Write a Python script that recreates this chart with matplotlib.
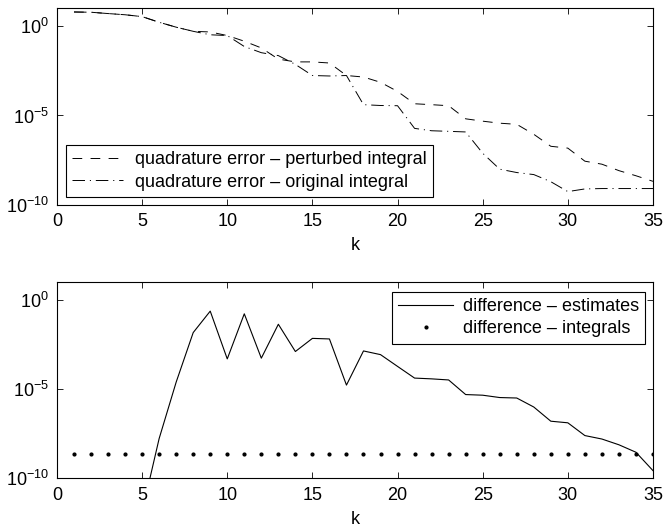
import numpy as np
import matplotlib
matplotlib.use("Agg")
import matplotlib.pyplot as plt
from matplotlib.ticker import FixedLocator, LogFormatterSciNotation, NullLocator

plt.rcParams['font.family'] = ['Liberation Sans', 'DejaVu Sans']
plt.rcParams['mathtext.fontset'] = 'custom'
plt.rcParams['mathtext.rm'] = 'Liberation Sans'
plt.rcParams['mathtext.it'] = 'Liberation Sans'
plt.rcParams['mathtext.default'] = 'regular'
plt.rcParams['lines.scale_dashes'] = False

# ---- data ----
k_top = list(range(1, 36))
err_perturbed = [6.0, 5.8, 4.9, 4.2, 3.3, 1.6, 0.85, 0.50, 0.46, 0.29,
                 0.14, 5.9e-2, 1.4e-2, 9.8e-3, 9.8e-3, 8.5e-3, 1.7e-3, 1.4e-3, 7.1e-4, 2.2e-4,
                 4.5e-5, 4.0e-5, 3.5e-5, 6.5e-6, 4.8e-6, 3.7e-6, 3.2e-6, 8.9e-7, 1.9e-7, 1.5e-7,
                 2.8e-8, 1.9e-8, 8.3e-9, 4.3e-9, 2.1e-9]
err_original = [6.0, 5.8, 4.9, 4.2, 3.3, 1.6, 0.85, 0.50, 0.32, 0.29,
                7.1e-2, 3.2e-2, 2.2e-2, 7.1e-3, 1.7e-3, 1.6e-3, 1.7e-3, 4.0e-5, 3.6e-5, 3.5e-5,
                1.9e-6, 1.4e-6, 1.3e-6, 1.2e-6, 7.8e-8, 1.0e-8, 6.5e-9, 5.0e-9, 2.0e-9, 5.6e-10,
                7.9e-10, 8.3e-10, 8.3e-10, 8.3e-10, 8.3e-10]

k_diff = list(range(5, 36))
diff_estimates = [1.3e-12, 1.7e-8, 2.5e-5, 1.5e-2, 0.24, 5.0e-4, 0.17, 5.5e-4, 4.4e-2, 1.3e-3,
                  7.1e-3, 6.6e-3, 1.7e-5, 1.4e-3, 8.7e-4, 1.9e-4, 4.2e-5, 3.8e-5, 3.3e-5, 5.0e-6,
                  4.6e-6, 3.4e-6, 3.2e-6, 1.0e-6, 1.6e-7, 1.3e-7, 2.5e-8, 1.6e-8, 7.6e-9, 2.9e-9,
                  2.7e-10]
k_dots = list(range(1, 36))
diff_integrals = [2.4e-9] * 35

xticks = [0, 5, 10, 15, 20, 25, 30, 35]
yticks = [1e-10, 1e-5, 1e0]

fig = plt.figure(figsize=(6.64, 5.27), dpi=100)
ax1 = fig.add_axes([0.0858, 0.611, 0.8976, 0.3738])
ax2 = fig.add_axes([0.0858, 0.0924, 0.8976, 0.372])

ax1.plot(k_top, err_perturbed, color='black', linewidth=0.7, linestyle=(0, (7, 6)),
         label='quadrature error \u2013 perturbed integral')
ax1.plot(k_top, err_original, color='black', linewidth=0.7, linestyle=(0, (9, 3.5, 0.8, 3.5)),
         label='quadrature error \u2013 original integral')

ax2.plot(k_diff, diff_estimates, color='black', linewidth=0.8,
         label='difference \u2013 estimates')
ax2.plot(k_dots, diff_integrals, color='black', linestyle='none', marker='.', markersize=4,
         label='difference \u2013 integrals')

for ax in (ax1, ax2):
    ax.set_yscale('log')
    ax.set_xlim(0, 35)
    ax.set_ylim(1e-10, 1e1)
    ax.set_xticks(xticks)
    ax.yaxis.set_major_locator(FixedLocator(yticks))
    ax.yaxis.set_minor_locator(NullLocator())
    ax.yaxis.set_major_formatter(LogFormatterSciNotation())
    ax.tick_params(direction='in', top=True, right=True, length=4.5, width=0.6,
                   labelsize=13, pad=6)
    for s in ax.spines.values():
        s.set_linewidth(0.8)
    ax.set_xlabel('k', fontsize=13, labelpad=5)

leg1 = ax1.legend(loc='lower left', bbox_to_anchor=(0.015, 0.04), borderaxespad=0,
                  fontsize=13, fancybox=False, edgecolor='black', framealpha=1,
                  handlelength=2.8, handletextpad=0.65, borderpad=0.35, labelspacing=0.3)
leg1.get_frame().set_linewidth(0.8)
leg2 = ax2.legend(loc='upper right', bbox_to_anchor=(0.9866, 0.952), borderaxespad=0,
                  fontsize=13, fancybox=False, edgecolor='black', framealpha=1,
                  handlelength=3.0, handletextpad=0.55, borderpad=0.35, labelspacing=0.3)
leg2.get_frame().set_linewidth(0.8)

fig.savefig('out.png', dpi=100)
